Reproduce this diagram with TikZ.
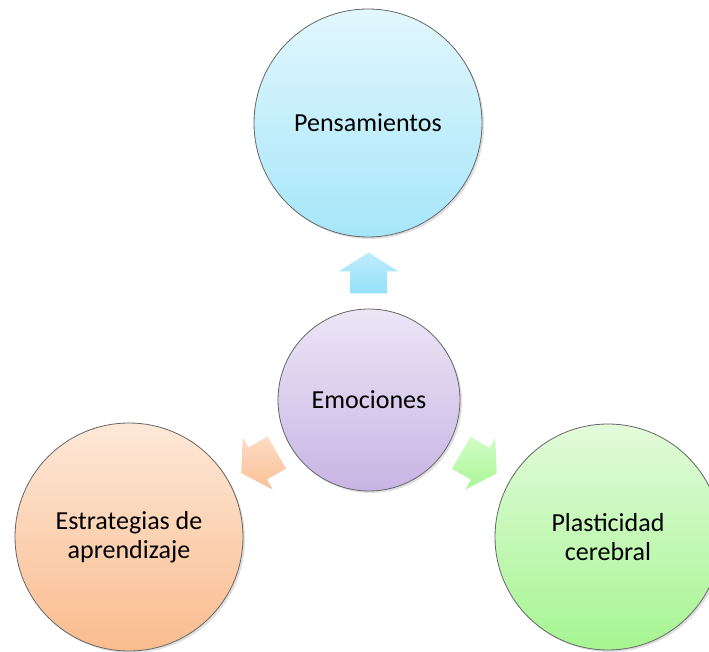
\documentclass[tikz,border=0pt]{standalone}
\usepackage{fontspec}
\setmainfont{Carlito}
\usetikzlibrary{calc,shadows}

\tikzset{
  bubble/.style={circle, draw=gray!80!black, line width=0.8pt, inner sep=0pt, align=center,
    font=\fontsize{26}{29}\selectfont, drop shadow={opacity=0.25, shadow xshift=2pt, shadow yshift=-2pt}},
  blockarrow/.pic={
    \path[pic actions] (-20.5,-18.5) -- (1.5,-18.5) -- (1.5,-30) -- (20.5,0) -- (1.5,30) -- (1.5,18.5) -- (-20.5,18.5) -- cycle;
  }
}

\begin{document}
\begin{tikzpicture}[x=1pt,y=1pt]
    \useasboundingbox (0,0) rectangle (709,651);

    %Shape: Circle [Pensamientos]
    \node[bubble, minimum size=228pt, top color={rgb,255:red,226;green,247;blue,253}, bottom color={rgb,255:red,166;green,230;blue,250}] (pen) at (368,528) {Pensamientos};
    %Shape: Circle [Emociones]
    \node[bubble, minimum size=182pt, top color={rgb,255:red,236;green,230;blue,246}, bottom color={rgb,255:red,200;green,180;blue,228}] (emo) at (369,251) {Emociones};
    %Shape: Circle [Estrategias]
    \node[bubble, minimum size=228pt, top color={rgb,255:red,253;green,232;blue,216}, bottom color={rgb,255:red,250;green,188;blue,142}] (lft) at (129,114) {Estrategias de\\aprendizaje};
    %Shape: Circle [Plasticidad]
    \node[bubble, minimum size=226pt, top color={rgb,255:red,226;green,251;blue,218}, bottom color={rgb,255:red,166;green,245;blue,146}] (rgt) at (608,114) {Plasticidad\\cerebral};

    % Arrow anchors, half way across each gap
    \coordinate (aup) at ($(emo.90)!0.5!(pen.270)$);
    \coordinate (alft) at ($(emo.210)!0.5!(lft.30)$);
    \coordinate (argt) at ($(emo.330)!0.5!(rgt.150)$);

    %Shape: Arrows
    \pic[rotate=90, top color={rgb,255:red,190;green,236;blue,252}, bottom color={rgb,255:red,150;green,224;blue,250}, drop shadow={opacity=0.25, shadow xshift=2pt, shadow yshift=-2pt}] at (aup) {blockarrow};
    \pic[rotate=210, top color={rgb,255:red,252;green,220;blue,196}, bottom color={rgb,255:red,250;green,192;blue,150}, drop shadow={opacity=0.25, shadow xshift=2pt, shadow yshift=-2pt}] at (alft) {blockarrow};
    \pic[rotate=330, top color={rgb,255:red,210;green,252;blue,200}, bottom color={rgb,255:red,170;green,246;blue,150}, drop shadow={opacity=0.25, shadow xshift=2pt, shadow yshift=-2pt}] at (argt) {blockarrow};

\end{tikzpicture}
\end{document}
